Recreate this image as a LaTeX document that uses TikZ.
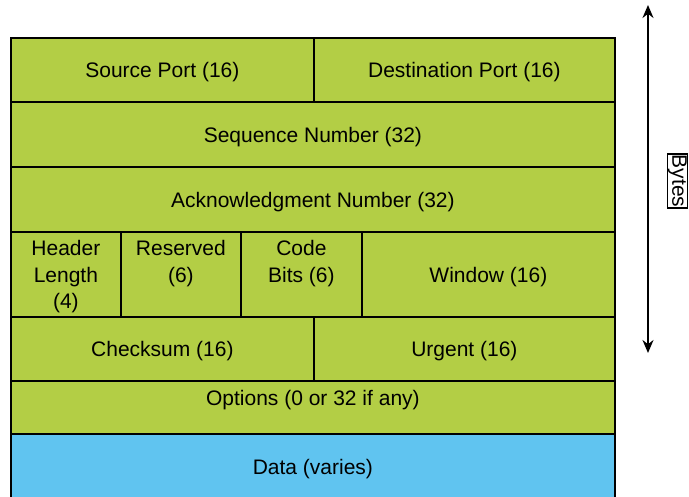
\documentclass[tikz,border=0pt]{standalone}
\usepackage{fontspec}
\setmainfont{Liberation Sans}
\usepackage{tikz}
\usetikzlibrary{positioning,arrows.meta}
\definecolor{hdrgreen}{RGB}{179,206,69}
\definecolor{datablue}{RGB}{96,196,240}

\begin{document}
\begin{tikzpicture}[x=1pt,y=-1pt,
  every node/.style={font=\fontsize{21}{26.5}\selectfont},
  cell/.style={draw,line width=1.8pt,fill=hdrgreen,anchor=north west,inner sep=0pt,align=center},
  oneline/.style={text height=20pt,text depth=4.5pt}]
\useasboundingbox (0,0) rectangle (689,497);
\node[cell,oneline,minimum width=303pt,minimum height=64pt] (src) at (10,37) {Source Port (16)};
\node[cell,oneline,minimum width=301pt,minimum height=64pt] (dst) at (313,37) {Destination Port (16)};
\node[cell,oneline,minimum width=604pt,minimum height=65pt] (seq) at (10,101) {Sequence Number (32)};
\node[cell,oneline,minimum width=604pt,minimum height=65pt] (ack) at (10,166) {Acknowledgment Number (32)};
\node[cell,text depth=-0.5pt,minimum width=110pt,minimum height=85pt] (hlen) at (10,231) {Header\\Length\\(4)};
\node[cell,text depth=-5pt,minimum width=120pt,minimum height=85pt] (rsv) at (120,231) {Reserved\\(6)\\~};
\node[cell,text depth=-5pt,minimum width=121pt,minimum height=85pt] (code) at (240,231) {Code\\Bits (6)\\~};
\node[cell,oneline,minimum width=253pt,minimum height=85pt] (win) at (361,231) {Window (16)};
\node[cell,oneline,minimum width=303pt,minimum height=64pt] (chk) at (10,316) {Checksum (16)};
\node[cell,oneline,minimum width=301pt,minimum height=64pt] (urg) at (313,316) {Urgent (16)};
\node[cell,text height=20pt,text depth=24.5pt,minimum width=604pt,minimum height=53pt] (opt) at (10,380) {Options (0 or 32 if any)};
\node[cell,text height=16pt,text depth=4.5pt,fill=datablue,minimum width=604pt,minimum height=70pt] (data) at (10,433) {Data (varies)};
% size arrow
\coordinate (top) at (648,5);
\coordinate (bot) at (648,353);
\draw[line width=2pt,{Stealth[length=13pt,width=11pt]}-{Stealth[length=13pt,width=11pt]}] (top) -- (bot);
\node[draw,line width=1.5pt,rotate=-90,inner sep=0.5pt] (bytes) at (677.5,181) {Bytes};
\end{tikzpicture}
\end{document}
